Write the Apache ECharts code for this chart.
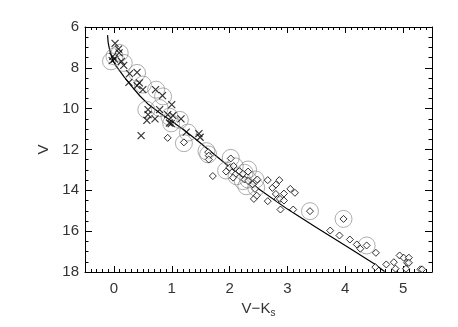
<!DOCTYPE html>
<html lang="en">
<head>
    <meta charset="UTF-8" />
    <title>V vs V-Ks</title>
    <script src="https://cdn.jsdelivr.net/npm/echarts@6/dist/echarts.min.js"></script>
    <style>
        html, body { margin: 0; padding: 0; background: #fff; }
        #chart { width: 458px; height: 327px; }
    </style>
</head>
<body>
<div id="chart"></div>
<script type="text/javascript">
    // [V-Ks, V]
    var crosses = [
        [0.02, 6.80], [0.08, 7.08], [0.09, 7.27], [-0.02, 7.44], [0.01, 7.57], [-0.03, 7.65],
        [0.13, 7.68], [0.17, 7.88], [0.27, 8.28], [0.40, 8.22], [0.26, 8.71], [0.40, 8.87],
        [0.44, 8.74], [0.50, 9.07], [0.72, 9.07], [0.84, 9.36], [1.00, 9.80], [0.59, 10.05],
        [0.59, 10.29], [0.79, 10.05], [0.57, 10.57], [0.71, 10.50], [0.93, 10.29], [0.96, 10.70],
        [0.99, 10.73], [1.02, 10.34], [1.16, 10.50], [1.25, 11.15], [1.47, 11.22], [1.49, 11.40],
        [0.47, 11.32]
    ];
    var diamonds = [
        [0.93, 11.43], [1.21, 11.65], [1.63, 12.13], [1.64, 12.30], [1.64, 12.49], [1.71, 13.30],
        [2.02, 12.44], [1.94, 13.08], [2.00, 12.89], [2.07, 12.81], [2.10, 13.22], [2.06, 13.38],
        [2.17, 13.06], [2.23, 13.19], [2.26, 13.47], [2.32, 13.08], [2.32, 13.54], [2.40, 13.71],
        [2.46, 13.54], [2.48, 13.47], [2.44, 13.93], [2.42, 14.42], [2.47, 14.26], [2.66, 13.50],
        [2.66, 14.53], [2.74, 13.88], [2.80, 13.72], [2.86, 13.50], [2.80, 14.18], [2.83, 14.42],
        [2.87, 14.42], [2.94, 14.16], [2.94, 14.50], [2.88, 14.94], [3.05, 13.93], [3.13, 14.12],
        [3.10, 14.94], [3.39, 15.02], [3.74, 15.97], [3.90, 16.21], [3.97, 15.40], [4.08, 16.41],
        [4.20, 16.65], [4.26, 16.86], [4.37, 16.70], [4.53, 17.06], [4.52, 17.76], [4.71, 17.63],
        [4.84, 17.52], [4.87, 17.84], [4.94, 17.19], [5.01, 17.30], [5.05, 17.84], [5.07, 17.55],
        [5.10, 17.30], [5.10, 17.55], [5.30, 17.87], [5.33, 17.87]
    ];
    var circled = [
        [-0.05, 7.68], [0.01, 7.44], [0.10, 7.27], [0.17, 7.76], [0.40, 8.25], [0.50, 8.82],
        [0.73, 9.07], [0.85, 9.40], [0.56, 10.05], [0.79, 9.97], [0.96, 10.39], [0.99, 10.72],
        [1.14, 10.55], [1.28, 11.17], [1.21, 11.69], [1.60, 12.08], [1.63, 12.24], [2.02, 12.41],
        [1.94, 13.03], [2.09, 12.82], [2.12, 13.31], [2.26, 13.14], [2.32, 12.98], [2.23, 13.55],
        [2.32, 13.47], [2.29, 13.80], [2.45, 13.47], [2.46, 13.87], [3.39, 15.02], [3.97, 15.40],
        [4.37, 16.70]
    ];
    var curve = [
        [-0.11, 6.40], [-0.10, 6.75], [-0.08, 7.05], [-0.05, 7.35], [-0.02, 7.62], [0.03, 7.88],
        [0.10, 8.15], [0.18, 8.45], [0.30, 8.88], [0.45, 9.38], [0.60, 9.80], [0.80, 10.22],
        [1.00, 10.62], [1.20, 11.02], [1.40, 11.46], [1.70, 12.16], [2.00, 12.86], [2.50, 13.92],
        [3.00, 14.92], [3.50, 15.82], [4.00, 16.70], [4.50, 17.60], [4.68, 17.98]
    ];
    var xMin = -0.5, xMax = 5.5;
    var yMin = 6, yMax = 18, yStep = 2;

    var txt = { fontFamily: 'Liberation Sans', fontSize: 15, color: '#333' };

    function xAx(pos, main, labels) {
        return {
            type: 'value', gridIndex: 0, position: pos, min: xMin, max: xMax,
            interval: main ? undefined : 0.1,
            splitNumber: 6,
            axisLine: { show: main, onZero: false, lineStyle: { color: '#000', width: 1 } },
            axisTick: { show: true, inside: true, length: main ? 6 : 3, lineStyle: { color: '#000' } },
            axisLabel: Object.assign({
                show: labels, margin: 9,
                formatter: function (v) { return Math.abs(v - Math.round(v)) < 1e-6 ? String(Math.round(v)) : ''; }
            }, txt),
            splitLine: { show: false },
            name: labels ? 'V\u2212K{s|s}' : '',
            nameLocation: 'middle', nameGap: 25,
            nameTextStyle: Object.assign({ rich: { s: { fontFamily: 'Liberation Sans', fontSize: 10, color: '#333', padding: [9, 0, 0, 0] } } }, txt)
        };
    }
    function yAx(pos, labels) {
        return {
            type: 'value', gridIndex: 0, position: pos, min: yMin, max: yMax, interval: yStep, inverse: true,
            axisLine: { show: true, onZero: false, lineStyle: { color: '#000', width: 1 } },
            axisTick: { show: true, inside: true, length: 7, lineStyle: { color: '#000' } },
            minorTick: { show: true, splitNumber: 4, length: 3.5, lineStyle: { color: '#000' } },
            axisLabel: Object.assign({ show: labels, margin: 6 }, txt),
            splitLine: { show: false }, minorSplitLine: { show: false },
            name: labels ? 'V' : '', nameLocation: 'middle', nameGap: 32, nameTextStyle: txt
        };
    }

    var myChart = echarts.init(document.getElementById('chart'), null, { renderer: 'canvas' });
    myChart.setOption({
        animation: false,
        backgroundColor: '#fff',
        grid: { left: 85, right: 26, top: 27, bottom: 55 },
        xAxis: [xAx('bottom', true, true), xAx('bottom', false, false), xAx('top', true, false), xAx('top', false, false)],
        yAxis: [yAx('left', true), yAx('right', false)],
        series: [
            {
                type: 'line', data: curve, showSymbol: false, smooth: false,
                lineStyle: { color: '#000', width: 1.2 }, z: 2
            },
            {
                type: 'scatter', data: circled, symbol: 'circle', symbolSize: 17,
                itemStyle: { color: 'rgba(0,0,0,0)', borderColor: '#808080', borderWidth: 0.8 }, z: 3
            },
            {
                type: 'scatter', data: diamonds, symbol: 'diamond', symbolSize: [7, 7],
                itemStyle: { color: '#fff', borderColor: '#000', borderWidth: 1 }, z: 4
            },
            {
                type: 'scatter', data: crosses, symbol: 'path://M0,0L10,10M10,0L0,10', symbolSize: 7,
                itemStyle: { color: 'none', borderColor: '#000', borderWidth: 1.2 }, z: 5
            }
        ]
    });
    window.onresize = function () { myChart.resize(); };
</script>
</body>
</html>
